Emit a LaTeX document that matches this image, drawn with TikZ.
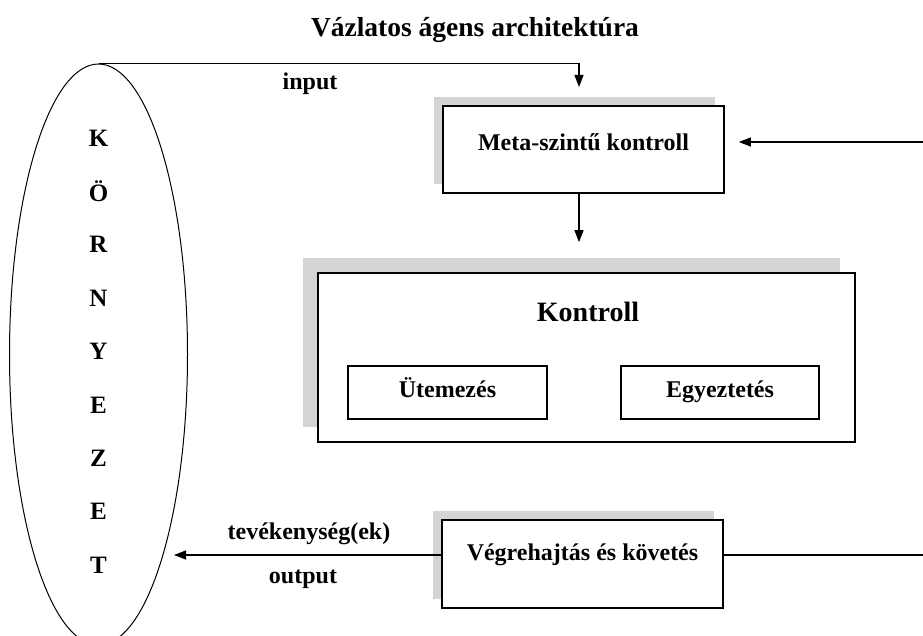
\documentclass[tikz,border=0pt]{standalone}
\usepackage{fontspec}
\setmainfont{Liberation Serif}
\usetikzlibrary{arrows.meta,shapes.geometric,shadows}

\begin{document}
\begin{tikzpicture}[x=1pt,y=-1pt,
    box/.style={draw, line width=1.6pt, fill=white, text height=16pt,
      font=\fontsize{24}{26}\selectfont\bfseries},
    shade/.style={drop shadow={fill=black!17, opacity=1, shadow xshift=-#1pt, shadow yshift=#1pt}},
    flow/.style={line width=1.2pt, -{Triangle[length=12pt,width=9pt]}},
    lbl/.style={font=\fontsize{24}{26}\selectfont\bfseries}]
  \useasboundingbox (0,0) rectangle (923,636);
  \node[font=\fontsize{27.5}{30}\selectfont\bfseries] (title) at (475,30) {Vázlatos ágens architektúra};
  \node[draw, ellipse, line width=1pt, minimum width=178, minimum height=581] (env) at (98.5,354.5) {};
  \foreach \ch [count=\i from 0] in {K,Ö,R,N,Y,E,Z,E,T}
    \node[font=\fontsize{25}{27}\selectfont\bfseries] (betu\i) at (98.5,138+53.4*\i) {\ch};
  \node[box, shade=9, minimum width=281, minimum height=87, text depth=13pt] (meta) at (583.5,149.5) {Meta-szintű kontroll};
  \node[box, shade=15, minimum width=537, minimum height=169] (kontroll) at (586.5,357.5) {};
  \node[font=\fontsize{28}{30}\selectfont\bfseries] (ktitle) at (588,312) {Kontroll};
  \node[box, line width=1.2pt, minimum width=199, minimum height=53, text depth=7pt] (utem) at (447.5,392.5) {Ütemezés};
  \node[box, line width=1.2pt, minimum width=198, minimum height=53, text depth=7pt] (egyez) at (720,392.5) {Egyeztetés};
  \node[box, shade=9, minimum width=281, minimum height=88, text depth=23pt] (exec) at (582.5,564) {Végrehajtás és követés};
  % connectors
  \coordinate (inend) at (579,87);
  \coordinate (fbin) at (923,142);
  \coordinate (fbout) at (923,555);
  \coordinate (outend) at (174,555);
  \draw[flow] (env.north) -| (inend);
  \node[lbl] (input) at (310,84) {input};
  \draw[flow, shorten >=14pt] (fbin) -- (fbin -| meta.east);
  \draw[flow, shorten >=30pt] (meta.south -| inend) -- (kontroll.north -| inend);
  \draw[line width=1.2pt] (fbout) -- (fbout -| exec.east);
  \draw[flow] (exec.west |- fbout) -- (outend);
  \node[lbl] (tev) at (309,534) {tevékenység(ek)};
  \node[lbl] (output) at (303,579) {output};
\end{tikzpicture}
\end{document}
